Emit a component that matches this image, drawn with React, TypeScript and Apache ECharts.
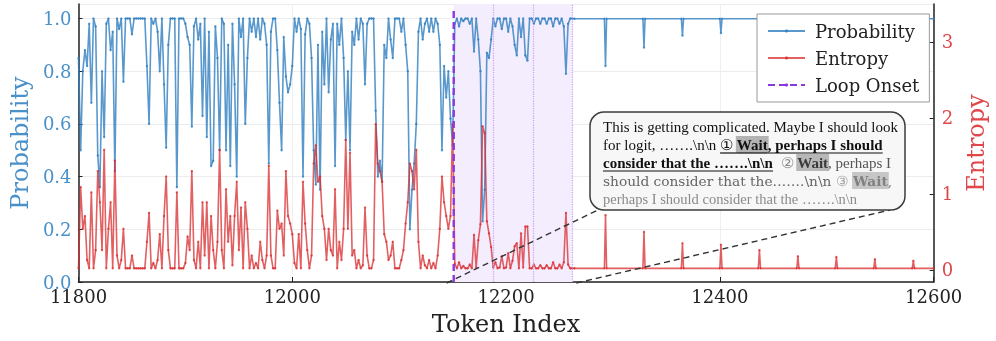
import React, { useEffect, useRef } from "react";
import * as echarts from "echarts";

// ---------- axes ----------
const X_MIN = 11800;
const X_MAX = 12600;
const X_INTERVAL = 200;
const PROB_MIN = 0;
const PROB_MAX = 1.055;
const PROB_INTERVAL = 0.2;
const ENT_MIN = -0.16;
const ENT_MAX = 3.5;
const ENT_TICKS = [0, 1, 2, 3];

// ---------- data ----------
// dense pre-loop region, tokens 11800, 11802, ... 12150
const DENSE_START = 11800;
const DENSE_STEP = 2;
const denseProb = [
  0.85, 0.5, 0.8, 0.88, 0.82, 0.98, 0.68, 1.0, 0.97, 0.48,
  0.36, 0.8, 0.55, 0.98, 1.0, 0.88, 0.95, 0.42, 1.0, 0.96,
  1.0, 0.76, 1.0, 1.0, 1.0, 0.94, 1.0, 1.0, 1.0, 1.0,
  1.0, 1.0, 0.82, 0.6, 1.0, 0.98, 1.0, 0.95, 0.8, 1.0,
  0.75, 0.51, 0.9, 1.0, 1.0, 1.0, 0.36, 1.0, 1.0, 1.0,
  0.98, 0.93, 0.9, 0.59, 0.97, 1.0, 0.92, 0.98, 0.63, 1.0,
  0.55, 0.95, 0.44, 0.46, 0.97, 0.85, 0.5, 1.0, 0.98, 0.5,
  0.9, 0.44, 0.98, 0.75, 0.4, 1.0, 0.93, 1.0, 0.6, 0.85,
  1.0, 0.95, 1.0, 0.93, 1.0, 0.92, 1.0, 0.98, 0.9, 0.45,
  0.95, 1.0, 1.0, 0.88, 0.68, 0.5, 0.93, 0.78, 0.72, 0.75,
  0.82, 1.0, 0.95, 1.0, 0.96, 0.4, 0.94, 1.0, 0.98, 0.85,
  0.5, 0.37, 0.9, 0.35, 0.95, 0.75, 1.0, 0.72, 0.92, 0.98,
  0.44, 0.98, 0.9, 1.0, 0.85, 0.54, 0.8, 0.5, 0.95, 0.9,
  1.0, 0.92, 1.0, 0.98, 0.75, 0.98, 1.0, 1.0, 1.0, 0.65,
  0.4, 0.46, 0.38, 0.9, 0.85, 1.0, 0.92, 0.85, 1.0, 1.0,
  1.0, 0.95, 1.0, 0.9, 0.8, 0.2, 0.35, 0.45, 0.6, 0.95,
  1.0, 0.92, 0.98, 1.0, 0.95, 1.0, 0.95, 1.0, 0.98, 0.9,
  0.5, 0.82, 0.7, 0.8, 0.62, 0.52,
];
const denseEnt = [
  0.02, 1.09, 0.54, 0.71, 0.13, 0.02, 1.02, 0.02, 0.26, 1.3,
  0.89, 0.26, 1.58, 0.02, 0.54, 0.89, 0.02, 1.44, 0.19, 0.02,
  0.13, 0.54, 0.02, 0.02, 0.02, 0.19, 0.02, 0.02, 0.02, 0.02,
  0.02, 0.02, 0.37, 0.75, 0.02, 0.09, 0.02, 0.13, 0.47, 0.02,
  0.71, 1.23, 0.26, 0.02, 0.02, 0.02, 1.02, 0.02, 0.02, 0.02,
  0.09, 0.44, 0.26, 1.3, 0.13, 0.02, 0.37, 0.02, 0.89, 0.19,
  0.89, 0.02, 0.71, 0.26, 0.02, 0.37, 1.58, 0.26, 0.02, 1.06,
  0.37, 0.71, 0.06, 0.71, 1.16, 0.26, 0.82, 0.02, 0.89, 0.54,
  0.02, 0.19, 0.02, 0.09, 0.02, 0.37, 0.13, 0.02, 0.19, 1.37,
  0.19, 0.02, 0.02, 0.78, 0.54, 0.61, 0.19, 1.3, 0.71, 0.61,
  0.47, 0.09, 0.02, 0.47, 0.02, 1.16, 0.61, 0.26, 0.02, 0.19,
  1.4, 1.64, 1.16, 1.23, 0.71, 0.54, 0.13, 0.54, 0.26,
  0.19, 1.06, 0.02, 0.37, 0.13, 0.54, 1.71, 0.54, 1.54, 0.19,
  0.26, 0.02, 0.13, 0.02, 0.06, 0.82, 0.19, 0.02, 0.02, 0.13,
  1.92, 1.4, 1.3, 1.16, 0.47, 0.37, 0.13, 0.19, 0.37, 0.02,
  0.02, 0.02, 0.13, 0.26, 0.61, 0.89, 1.4, 1.3, 1.06, 1.58,
  0.37, 0.02, 0.19, 0.06, 0.02, 0.13, 0.02, 0.09, 0.02, 0.19,
  0.54, 1.23, 0.89, 0.71, 0.54, 0.71, 1.92,
];

// loop region, tokens 12152, 12154, ... 12262
const LOOP_START = 12152;
const LOOP_STEP = 2;
const loopProb = [
  0.98, 1.0, 0.97, 1.0, 0.99, 1.0, 1.0, 0.98, 1.0, 0.875,
  1.0, 0.92, 0.8, 0.23, 0.35, 0.87, 0.85, 0.92, 1.0, 0.97,
  1.0, 1.0, 0.96, 1.0, 1.0, 0.95, 1.0, 0.97, 0.9, 0.86,
  1.0, 0.93, 1.0, 0.86, 0.84, 1.0, 1.0, 0.98, 1.0, 1.0,
  0.98, 1.0, 1.0, 0.98, 1.0, 1.0, 0.97, 1.0, 1.0, 0.98,
  1.0, 0.97, 0.79, 0.98, 1.0, 1.0,
];
const loopEnt = [
  0.08, 0.02, 0.1, 0.02, 0.05, 0.02, 0.02, 0.07, 0.02, 0.46,
  0.03, 0.39, 0.6, 1.89, 1.8, 0.64, 0.48, 0.3, 0.03, 0.1,
  0.02, 0.03, 0.18, 0.02, 0.03, 0.22, 0.02, 0.12, 0.31, 0.35,
  0.02, 0.48, 0.03, 0.57, 0.57, 0.02, 0.02, 0.07, 0.02, 0.02,
  0.06, 0.02, 0.02, 0.06, 0.02, 0.02, 0.1, 0.02, 0.02, 0.07,
  0.02, 0.1, 0.75, 0.07, 0.02, 0.02,
];

// repeating tail after the loop: flat baseline with periodic spikes
const TAIL_START = 12264;
const TAIL_BASE_PROB = 0.999;
const TAIL_BASE_ENT = 0.02;
const spikeTokens = [12293, 12329, 12365, 12401, 12437, 12473, 12509, 12545, 12581];
const spikeProb = [0.82, 0.89, 0.935, 0.945, 0.95, 0.96, 0.965, 0.97, 0.975];
const spikeEnt = [0.72, 0.5, 0.35, 0.33, 0.26, 0.18, 0.17, 0.14, 0.12];

const LOOP_ONSET = 12151;
const LOOP_BOUNDS = [12151, 12188, 12225, 12262];

// ---------- styles ----------
const BLUE = "#2f7ebf";
const BLUE_TXT = "#4a90c9";
const RED = "#d92b2e";
const RED_TXT = "#e0474b";
const PURPLE = "#8a38e0";
const AXIS_FONT = '"DejaVu Serif", serif';
const NOTE_FONT = '"Liberation Serif", "Times New Roman", serif';
const WIDE_FONT = '"DejaVu Serif", serif';

type Seg = { t: string; c?: string; b?: boolean; u?: boolean; h?: string };
const noteLines: { segs: Seg[]; size: number; font?: string; fitWidth?: number }[] = [
  { size: 15, segs: [{ t: "This is getting complicated. Maybe I should look", c: "#111" }] },
  {
    size: 15,
    segs: [
      { t: "for logit, …….\\n\\n ", c: "#111" },
      { t: "①", c: "#111", u: true },
      { t: " ", c: "#111", b: true, u: true },
      { t: "Wait", c: "#111", b: true, u: true, h: "#b3b3b3" },
      { t: ", perhaps I should", c: "#111", b: true, u: true },
    ],
  },
  {
    size: 15,
    segs: [
      { t: "consider that the …….\\n\\n", c: "#111", b: true, u: true },
      { t: "  ", c: "#111" },
      { t: "②", c: "#8a8a8a" },
      { t: " ", c: "#444" },
      { t: "Wait", c: "#3a3a3a", b: true, h: "#b8b8b8" },
      { t: ", perhaps I", c: "#555" },
    ],
  },
  {
    size: 13,
    font: WIDE_FONT,
    fitWidth: 289,
    segs: [
      { t: "should consider that the…….\\n\\n ", c: "#666" },
      { t: "③", c: "#a0a0a0" },
      { t: " ", c: "#666" },
      { t: "Wait", c: "#808080", b: true, h: "#c6c6c6" },
      { t: ",", c: "#808080" },
    ],
  },
  { size: 14.5, segs: [{ t: "perhaps I should consider that the …….\\n\\n", c: "#8a8a8a" }] },
];

function buildSeries() {
  const prob: number[][] = [];
  const ent: number[][] = [];
  denseProb.forEach((v, i) => prob.push([DENSE_START + DENSE_STEP * i, v]));
  denseEnt.forEach((v, i) => ent.push([DENSE_START + DENSE_STEP * i, v]));
  loopProb.forEach((v, i) => prob.push([LOOP_START + LOOP_STEP * i, v]));
  loopEnt.forEach((v, i) => ent.push([LOOP_START + LOOP_STEP * i, v]));
  prob.push([TAIL_START, TAIL_BASE_PROB]);
  ent.push([TAIL_START, TAIL_BASE_ENT]);
  spikeTokens.forEach((t, k) => {
    prob.push([t - 1, TAIL_BASE_PROB], [t, spikeProb[k]], [t + 1, TAIL_BASE_PROB]);
    ent.push([t - 1, TAIL_BASE_ENT], [t, spikeEnt[k]], [t + 1, TAIL_BASE_ENT]);
  });
  prob.push([X_MAX, TAIL_BASE_PROB]);
  ent.push([X_MAX, TAIL_BASE_ENT]);
  return { prob, ent };
}

function buildNote(chart: any) {
  const canvas = document.createElement("canvas");
  const ctx = canvas.getContext("2d")!;
  const fontOf = (s: Seg, size: number, fam: string) => `${s.b ? "bold" : "normal"} ${size}px ${fam}`;
  const measure = (text: string, font: string) => {
    ctx.font = font;
    return ctx.measureText(text).width;
  };
  const els: any[] = [];
  const boxX = 590, boxY = 112, boxW = 315, boxH = 98;
  const textX = 603, firstY = 127, lineH = 18;

  const pA = chart.convertToPixel({ xAxisIndex: 0, yAxisIndex: 0 }, [LOOP_ONSET, 0]);
  const pB = chart.convertToPixel({ xAxisIndex: 0, yAxisIndex: 0 }, [LOOP_BOUNDS[3], 0]);
  const dash = { stroke: "#333", lineWidth: 1.4, lineDash: [6, 4] };
  els.push({ type: "line", z: 50, shape: { x1: pA[0] - 7, y1: pA[1] + 1, x2: boxX + 8, y2: boxY + boxH }, style: dash, silent: true });
  els.push({ type: "line", z: 50, shape: { x1: pB[0] + 4, y1: pB[1] + 1, x2: boxX + boxW - 15, y2: boxY + boxH }, style: dash, silent: true });

  els.push({
    type: "rect", z: 60, silent: true,
    shape: { x: boxX, y: boxY, width: boxW, height: boxH, r: 14 },
    style: { fill: "#f7f7f7", stroke: "#3c3c3c", lineWidth: 1.5 },
  });

  noteLines.forEach((line, li) => {
    const y = firstY + li * lineH;
    const fam = line.font || NOTE_FONT;
    let size = line.size;
    if (line.fitWidth) {
      const nat = line.segs.reduce((a, s) => a + measure(s.t, fontOf(s, size, fam)), 0);
      size = Math.min(15, (size * line.fitWidth) / nat);
    }
    let x = textX;
    line.segs.forEach((s) => {
      const w = measure(s.t, fontOf(s, size, fam));
      if (s.h) {
        els.push({ type: "rect", z: 61, silent: true, shape: { x: x - 1, y: y - 9, width: w + 2, height: 17 }, style: { fill: s.h } });
      }
      if (s.t.trim().length) {
        els.push({
          type: "text", z: 62, silent: true, x, y,
          style: {
            text: s.t, fill: s.c || "#111", fontFamily: fam, fontSize: size,
            fontWeight: s.b ? "bold" : "normal", align: "left", verticalAlign: "middle",
          },
        });
      }
      if (s.u) {
        els.push({ type: "line", z: 62, silent: true, shape: { x1: x, y1: y + 8, x2: x + w, y2: y + 8 }, style: { stroke: "#111", lineWidth: 1.2 } });
      }
      x += w;
    });
  });
  return els;
}

export default function App() {
  const ref = useRef<HTMLDivElement>(null);
  useEffect(() => {
    document.body.style.margin = "0";
    const chart = echarts.init(ref.current!, undefined, { renderer: "svg" });
    const { prob, ent } = buildSeries();
    const option: any = {
      animation: false,
      grid: { left: 70, right: 56, top: 4, bottom: 59 },
      legend: {
        data: ["Probability", "Entropy", "Loop Onset"],
        orient: "vertical",
        left: 757,
        top: 14,
        padding: [7, 10, 7, 10],
        itemWidth: 37,
        itemHeight: 4,
        itemGap: 7,
        backgroundColor: "#ffffff",
        borderColor: "#9a9a9a",
        borderWidth: 1,
        borderRadius: 0,
        z: 20,
        textStyle: { fontFamily: AXIS_FONT, fontSize: 18, color: "#222", lineHeight: 20, padding: [0, 0, 0, 5] },
      },
      xAxis: {
        type: "value",
        min: X_MIN,
        max: X_MAX,
        interval: X_INTERVAL,
        name: "Token Index",
        nameLocation: "middle",
        nameGap: 30,
        nameTextStyle: { fontFamily: AXIS_FONT, fontSize: 24, color: "#222" },
        axisLine: { show: true, onZero: false, lineStyle: { color: "#222", width: 1.5 } },
        axisTick: { show: true, inside: true, length: 5, lineStyle: { color: "#222" } },
        axisLabel: { fontFamily: AXIS_FONT, fontSize: 18, color: "#222", margin: 5, formatter: (v: number) => String(v) },
        splitLine: { show: true, lineStyle: { color: "#efefef", width: 1 } },
      },
      yAxis: [
        {
          type: "value",
          position: "left",
          min: PROB_MIN,
          max: PROB_MAX,
          interval: PROB_INTERVAL,
          name: "Probability",
          nameLocation: "middle",
          nameRotate: 90,
          nameGap: 38,
          nameTextStyle: { fontFamily: AXIS_FONT, fontSize: 24, color: BLUE_TXT },
          axisLine: { show: true, lineStyle: { color: "#222", width: 1.5 } },
          axisTick: { show: true, inside: true, length: 4, lineStyle: { color: "#222" } },
          axisLabel: {
            fontFamily: AXIS_FONT, fontSize: 18, color: BLUE_TXT, margin: 7, showMaxLabel: false,
            formatter: (v: number) => v.toFixed(1),
          },
          splitLine: { show: true, lineStyle: { color: "#ececec", width: 1 } },
        },
        {
          type: "value",
          position: "right",
          min: ENT_MIN,
          max: ENT_MAX,
          name: "Entropy",
          nameLocation: "middle",
          nameRotate: 90,
          nameGap: 26,
          nameTextStyle: { fontFamily: AXIS_FONT, fontSize: 24, color: RED_TXT },
          axisLine: { show: true, lineStyle: { color: "#222", width: 1.5 } },
          axisTick: { show: true, inside: true, length: 4, customValues: ENT_TICKS, lineStyle: { color: "#222" } },
          axisLabel: { fontFamily: AXIS_FONT, fontSize: 18, color: RED_TXT, margin: 8, customValues: ENT_TICKS },
          splitLine: { show: false },
        },
      ],
      series: [
        {
          name: "loopShade",
          type: "line",
          data: [],
          yAxisIndex: 0,
          silent: true,
          z: 1,
          markArea: {
            silent: true,
            itemStyle: { color: "#f4edfd" },
            data: [[{ xAxis: LOOP_BOUNDS[0] }, { xAxis: LOOP_BOUNDS[3] }]],
          },
          markLine: {
            silent: true,
            symbol: ["none", "none"],
            label: { show: false },
            lineStyle: { color: "#c7a0f2", type: "dotted", width: 1.2 },
            data: LOOP_BOUNDS.slice(1).map((v) => ({ xAxis: v })),
          },
        },
        {
          name: "Probability",
          type: "line",
          yAxisIndex: 0,
          data: prob,
          symbol: "circle",
          symbolSize: 2.4,
          showSymbol: true,
          z: 3,
          lineStyle: { color: BLUE, width: 1.6, opacity: 0.8 },
          itemStyle: { color: BLUE, opacity: 0.8 },
        },
        {
          name: "Entropy",
          type: "line",
          yAxisIndex: 1,
          data: ent,
          symbol: "circle",
          symbolSize: 2.4,
          showSymbol: true,
          z: 4,
          lineStyle: { color: RED, width: 1.6, opacity: 0.75 },
          itemStyle: { color: RED, opacity: 0.75 },
        },
        {
          name: "Loop Onset",
          type: "line",
          yAxisIndex: 0,
          data: [[LOOP_ONSET, 0], [LOOP_ONSET, 1.035]],
          symbol: "none",
          z: 5,
          lineStyle: { color: PURPLE, width: 2.4, type: [7, 4] },
          itemStyle: { color: PURPLE },
        },
      ],
    };
    chart.setOption(option);
    chart.setOption({ graphic: buildNote(chart) });
    return () => chart.dispose();
  }, []);
  return <div ref={ref} style={{ position: "fixed", left: 0, top: 0, width: 996, height: 341 }} />;
}
